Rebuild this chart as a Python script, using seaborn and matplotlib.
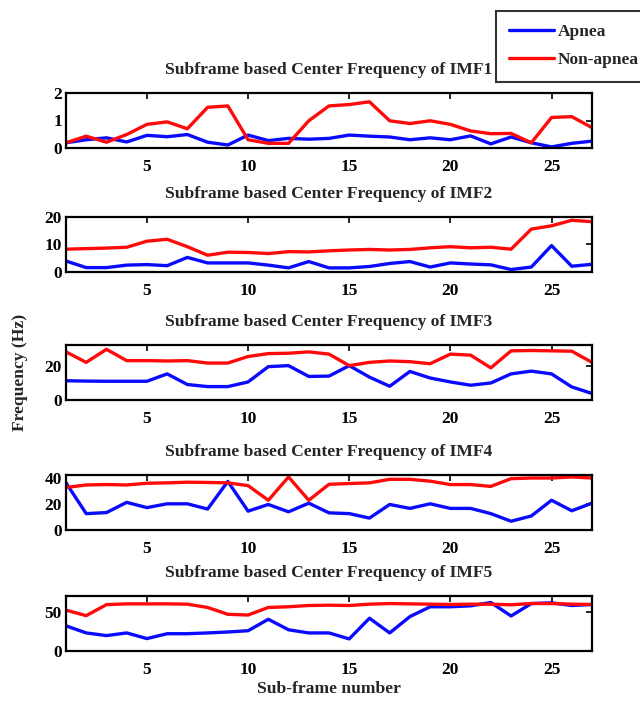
import numpy as np
import pandas as pd
import matplotlib
matplotlib.use("Agg")
import matplotlib.pyplot as plt
import seaborn as sns
from matplotlib.lines import Line2D

sns.set_theme(style="white")
plt.rcParams['font.family'] = ['Liberation Serif', 'DejaVu Serif']
plt.rcParams['font.weight'] = 'bold'

frames = list(range(1, 28))

imf1_apnea = [0.19, 0.30, 0.37, 0.22, 0.46, 0.41, 0.49, 0.21, 0.11, 0.47, 0.27, 0.35, 0.32, 0.35,
              0.47, 0.43, 0.40, 0.30, 0.37, 0.30, 0.44, 0.15, 0.40, 0.19, 0.04, 0.17, 0.25]
imf1_non = [0.19, 0.43, 0.21, 0.49, 0.86, 0.95, 0.70, 1.48, 1.53, 0.30, 0.17, 0.17, 0.99, 1.53,
            1.58, 1.68, 0.99, 0.89, 0.99, 0.86, 0.62, 0.52, 0.53, 0.19, 1.11, 1.14, 0.74]

imf2_apnea = [4.0, 1.6, 1.6, 2.5, 2.7, 2.3, 5.3, 3.3, 3.3, 3.3, 2.5, 1.5, 3.8, 1.5,
              1.5, 2.0, 3.1, 3.8, 1.8, 3.3, 2.9, 2.6, 0.9, 1.8, 9.6, 2.1, 2.8]
imf2_non = [8.3, 8.5, 8.7, 9.0, 11.2, 11.9, 9.2, 6.1, 7.2, 7.1, 6.7, 7.4, 7.3, 7.7,
            8.0, 8.2, 8.0, 8.2, 8.8, 9.2, 8.8, 9.0, 8.3, 15.6, 16.8, 18.8, 18.3]

imf3_apnea = [11.2, 11.0, 10.9, 10.9, 10.9, 15.2, 9.0, 7.8, 7.8, 10.5, 19.4, 20.0, 13.7, 13.9,
              20.0, 13.3, 8.0, 16.6, 12.8, 10.5, 8.6, 9.9, 15.2, 16.8, 15.2, 7.6, 3.8]
imf3_non = [28.0, 21.9, 29.5, 22.9, 22.9, 22.7, 22.9, 21.5, 21.5, 25.3, 27.0, 27.2, 28.0, 26.7,
            20.0, 21.9, 22.7, 22.3, 21.1, 26.7, 26.1, 18.7, 28.6, 28.8, 28.6, 28.4, 21.9]

imf4_apnea = [36.0, 12.5, 13.3, 21.1, 17.1, 20.0, 20.0, 16.0, 37.1, 14.4, 19.5, 13.9, 20.5, 13.1,
              12.5, 9.1, 19.5, 16.5, 20.0, 16.5, 16.5, 12.5, 6.7, 10.7, 22.7, 14.7, 20.5]
imf4_non = [32.5, 34.4, 34.7, 34.4, 35.7, 36.0, 36.5, 36.3, 36.0, 33.9, 22.7, 40.5, 22.7, 34.9,
            35.5, 36.0, 38.7, 38.7, 37.3, 34.7, 34.7, 33.3, 39.2, 39.7, 39.7, 40.5, 39.7]

imf5_apnea = [32.0, 23.0, 19.6, 23.0, 15.8, 22.0, 22.0, 23.0, 24.2, 25.8, 40.4, 27.0, 23.0, 23.0,
              15.4, 41.7, 23.0, 43.8, 56.3, 56.3, 57.5, 61.7, 44.6, 60.4, 61.3, 57.9, 59.2]
imf5_non = [52.0, 45.0, 59.0, 60.0, 60.0, 60.0, 59.6, 55.4, 46.7, 45.8, 55.4, 56.3, 57.9, 58.3,
            57.9, 59.6, 60.4, 60.0, 59.6, 59.2, 59.6, 59.6, 58.8, 60.4, 60.4, 59.6, 59.2]

titles = ["Subframe based Center Frequency of IMF1",
          "Subframe based Center Frequency of IMF2",
          "Subframe based Center Frequency of IMF3",
          "Subframe based Center Frequency of IMF4",
          "Subframe based Center Frequency of IMF5"]
series = [(imf1_apnea, imf1_non), (imf2_apnea, imf2_non), (imf3_apnea, imf3_non),
          (imf4_apnea, imf4_non), (imf5_apnea, imf5_non)]
ylims = [(0, 2), (0, 20), (0, 32), (0, 42), (0, 70)]
yticks = [[0, 1, 2], [0, 10, 20], [0, 20], [0, 20, 40], [0, 50]]
xticks = [5, 10, 15, 20, 25]
labels = ["Apnea", "Non-apnea"]
palette = {"Apnea": "#0a0aff", "Non-apnea": "#ff0a0a"}

W, H = 640, 711
fig = plt.figure(figsize=(W / 100, H / 100), dpi=100)
left, right = 66 / W, 592 / W
tops = [93, 217, 345, 475, 596]
ah = 55

for i, (title, (ap, non)) in enumerate(zip(titles, series)):
    ax = fig.add_axes([left, 1 - (tops[i] + ah) / H, right - left, ah / H])
    df = pd.DataFrame({
        "frame": frames + frames,
        "freq": list(ap) + list(non),
        "group": [labels[0]] * len(frames) + [labels[1]] * len(frames),
    })
    sns.lineplot(data=df, x="frame", y="freq", hue="group", palette=palette,
                 linewidth=2.4, ax=ax, legend=False)
    ax.set_xlim(1, 27)
    ax.set_ylim(*ylims[i])
    ax.set_xticks(xticks)
    ax.set_yticks(yticks[i])
    ax.set_xlabel("")
    ax.set_ylabel("")
    ax.set_title(title, fontsize=12.6, fontweight='bold', pad=14)
    ax.tick_params(direction='in', length=4, width=1.2, top=True, right=True,
                   labelsize=12.5, colors='black')
    ax.tick_params(axis='x', pad=8)
    ax.tick_params(axis='y', pad=3)
    for lab in ax.get_xticklabels() + ax.get_yticklabels():
        lab.set_fontweight('bold')
    for sp in ax.spines.values():
        sp.set_linewidth(1.6)
        sp.set_color('black')

fig.text((66 + 592) / 2 / W, 1 - 689 / H, "Sub-frame number", ha='center', va='center',
         fontsize=12.6, fontweight='bold')
fig.text(20 / W, 1 - 372 / H, "Frequency (Hz)", ha='center', va='center', rotation=90,
         fontsize=12.6, fontweight='bold')

handles = [Line2D([0], [0], color=palette[l], lw=2.4) for l in labels]
leg = fig.legend(handles, labels, loc='upper left', bbox_to_anchor=(496 / W, 1 - 11 / H),
                 borderaxespad=0, frameon=True, fontsize=12.5, handlelength=2.6,
                 borderpad=0.75, labelspacing=0.7, handletextpad=0.2, fancybox=False)
leg.get_frame().set_edgecolor('black')
leg.get_frame().set_linewidth(1.5)
for t in leg.get_texts():
    t.set_fontweight('bold')

fig.savefig("out.png", dpi=100)
